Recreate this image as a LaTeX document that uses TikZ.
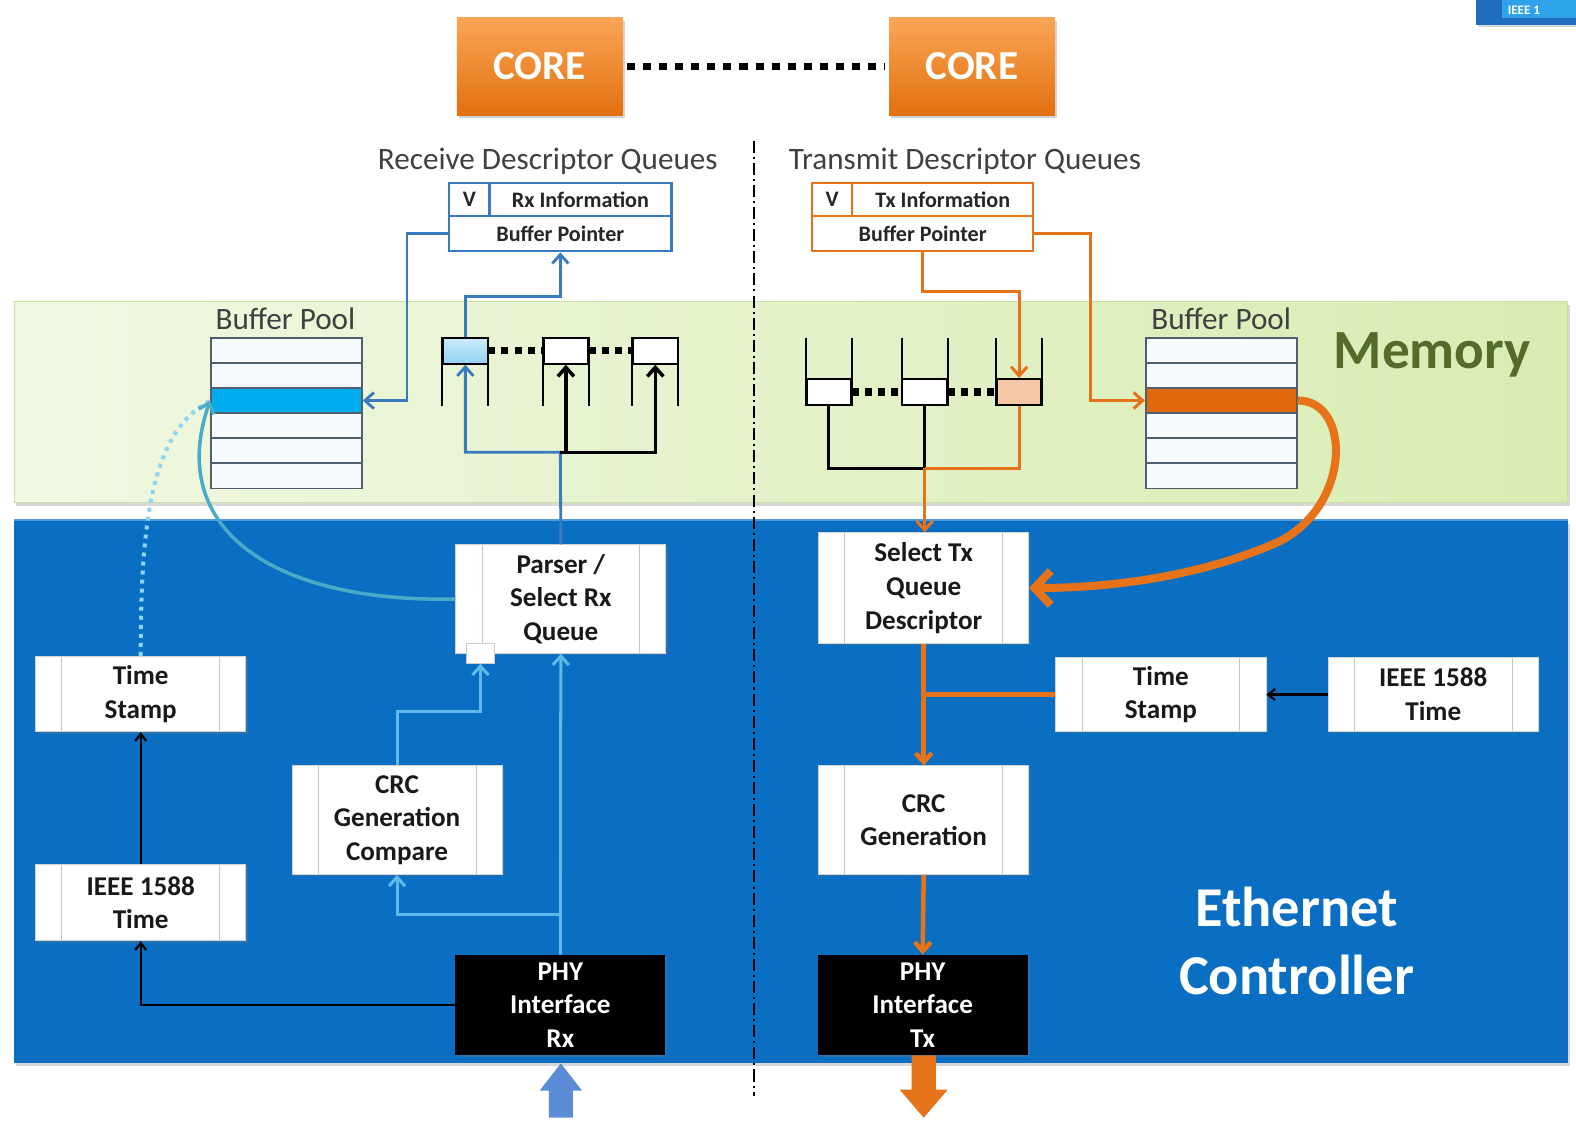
\documentclass[tikz,border=0pt]{standalone}
\usepackage{fontspec}
\setmainfont{Carlito}
\usetikzlibrary{arrows.meta,shadows,calc}
\definecolor{coreTop}{HTML}{FAA655}
\definecolor{coreBot}{HTML}{E2700F}
\definecolor{rxblue}{HTML}{3B79C0}
\definecolor{txorange}{HTML}{E6731A}
\definecolor{ctrlblue}{HTML}{0A6FC2}
\definecolor{ctrledge}{HTML}{4C9BE0}
\definecolor{cyanline}{HTML}{62B8E8}
\definecolor{dotline}{HTML}{8FD4F2}
\definecolor{tealline}{HTML}{4AAAC8}
\definecolor{memL}{HTML}{F0F8E2}
\definecolor{memR}{HTML}{D8ECB2}
\definecolor{memedge}{HTML}{C9E0A0}
\definecolor{memtext}{HTML}{556B2A}
\definecolor{poolfill}{HTML}{F7FBFF}
\definecolor{poolline}{HTML}{4F5F70}
\definecolor{hlcyan}{HTML}{00AEEF}
\definecolor{hlorange}{HTML}{E2690B}
\definecolor{qblueT}{HTML}{CDEBFA}
\definecolor{qblueB}{HTML}{8FD3F3}
\definecolor{qpeach}{HTML}{F8C9A6}
\definecolor{inarrow}{HTML}{5B8DD6}
\definecolor{logoA}{HTML}{1E6DC0}
\definecolor{logoB}{HTML}{2FA3EA}
\begin{document}
\begin{tikzpicture}[x=1pt,y=-1pt,
  core/.style={minimum width=165, minimum height=97, inner sep=0, top color=coreTop, bottom color=coreBot, text=white, font=\bfseries\fontsize{41}{50}\selectfont, drop shadow={opacity=0.35,shadow xshift=2,shadow yshift=3}},
  proc/.style={draw=gray!35, line width=0.8, fill=white, inner sep=0, align=center, text=black!90,
    font=\bfseries\fontsize{27}{33.5}\selectfont, minimum width=209,
    drop shadow={opacity=0.25,shadow xshift=2,shadow yshift=2},
    path picture={\draw[gray!45,line width=0.8]
      ([xshift=26pt]path picture bounding box.south west) -- ([xshift=26pt]path picture bounding box.north west)
      ([xshift=-26pt]path picture bounding box.south east) -- ([xshift=-26pt]path picture bounding box.north east);}},
  phy/.style={fill=black, text=white, minimum width=209, minimum height=100, inner sep=0, align=center,
    font=\bfseries\fontsize{27}{33.5}\selectfont, drop shadow={opacity=0.25,shadow xshift=2,shadow yshift=2}},
  rxdesc/.style={draw=rxblue, line width=2.2, fill=white, inner sep=0, font=\bfseries\fontsize{22}{26}\selectfont, text=black!85},
  txdesc/.style={rxdesc, draw=txorange},
  ttl/.style={font=\fontsize{31}{36}\selectfont, text=black!75},
  prow/.style={draw=poolline, line width=1.8, fill=poolfill, minimum width=150, minimum height=25, inner sep=0},
  qsq/.style={draw=black, line width=1.8, minimum width=44, minimum height=26, inner sep=0, fill=white},
  qline/.style={black, line width=1.8},
  qdots/.style={black, line width=7, dash pattern=on 7pt off 6pt},
  rxln/.style={rxblue, line width=2.8},
  txln/.style={txorange, line width=3},
  txthick/.style={txorange, line width=4.5},
  cyln/.style={cyanline, line width=3},
  blkthick/.style={black, line width=3.5},
  blkthin/.style={black, line width=2.2},
  barb/.style={-{Straight Barb[length=9pt,width=16pt]}},
  smallbarb/.style={-{Straight Barb[length=7pt,width=11pt]}}
]
\fill[white] (0,0) rectangle (1568,1118);
\useasboundingbox (0,0) rectangle (1568,1118);

% logo corner
\begin{scope}
\clip (0,0) rectangle (1568,1118);
\fill[logoA, drop shadow={opacity=0.3,shadow xshift=2,shadow yshift=2}] (1468,-4) rectangle (1575,25);
\fill[logoB] (1494,-4) rectangle (1575,18);
\node[white, font=\bfseries\fontsize{13}{13}\selectfont, anchor=base west, inner sep=0] (logo) at (1500,14) {IEEE 1};
\end{scope}

% bands
\node[left color=memL, right color=memR, draw=memedge, line width=1, minimum width=1546, minimum height=200, inner sep=0,
  drop shadow={opacity=0.3,shadow xshift=2,shadow yshift=3}] (mem) at (787,400) {};
\node[fill=ctrlblue, minimum width=1546, minimum height=540, inner sep=0,
  drop shadow={opacity=0.3,shadow xshift=2,shadow yshift=3}] (ctrl) at (787,788) {};
\draw[ctrledge, line width=2] (ctrl.north west) -- (ctrl.north east);

\node[font=\bfseries\fontsize{55}{60}\selectfont, text=memtext] (memlbl) at (1425,353) {Memory};
\node[font=\bfseries\fontsize{56}{68}\selectfont, text=white, align=center] (ctrllbl) at (1290,936) {Ethernet\\Controller};

% cores
\node[core] (coreL) at (537,66) {CORE};
\node[core] (coreR) at (967,66) {CORE};
\draw[black, line width=7, dash pattern=on 8pt off 8pt] ([xshift=4pt]coreL.east) -- ([xshift=-4pt]coreR.west);

% divider
\coordinate (divT) at (750,140);
\coordinate (divB) at (750,1090);
\draw[black, line width=2.2, dash pattern=on 12pt off 4pt on 2pt off 4pt] (divT) -- (divB);

% titles
\node[ttl] (rxttl) at (545,160) {Receive Descriptor Queues};
\node[ttl] (txttl) at (960,160) {Transmit Descriptor Queues};

% descriptors
\node[rxdesc, minimum width=40, minimum height=33] (rxV) at (467,198.5) {V};
\node[rxdesc, minimum width=181, minimum height=33] (rxInfo) at (577.5,198.5) {Rx Information};
\node[rxdesc, minimum width=221, minimum height=35] (rxBP) at (557.5,232.5) {Buffer Pointer};
\node[txdesc, minimum width=40, minimum height=33] (txV) at (828,198.5) {V};
\node[txdesc, minimum width=180, minimum height=33] (txInfo) at (938,198.5) {Tx Information};
\node[txdesc, minimum width=220, minimum height=35] (txBP) at (918,232.5) {Buffer Pointer};

% buffer pools
\node[ttl] (rxpoolt) at (284,317) {Buffer Pool};
\node[ttl] (txpoolt) at (1215,317) {Buffer Pool};
\foreach \i/\y in {1/348.5,2/373.5,3/398.5,4/423.5,5/448.5,6/473.5}{
  \node[prow] (rxp\i) at (285,\y) {};
  \node[prow] (txp\i) at (1215,\y) {};
}
\node[prow, fill=hlcyan] (rxp3) at (285,398.5) {};
\node[prow, fill=hlorange] (txp3) at (1215,398.5) {};

% rx queues
\node[qsq, top color=qblueT, bottom color=qblueB] (rxq1) at (463,349) {};
\node[qsq] (rxq2) at (563,349) {};
\node[qsq] (rxq3) at (652,349) {};
\foreach \q in {rxq1,rxq2,rxq3}{
  \draw[qline] (\q.north west) -- ++(0,69);
  \draw[qline] (\q.north east) -- ++(0,69);
}
\draw[qdots] (rxq1.east) -- (rxq2.west);
\draw[qdots] (rxq2.east) -- (rxq3.west);

% tx queues
\node[qsq] (txq1) at (824.5,390) {};
\node[qsq] (txq2) at (920,390) {};
\node[qsq, fill=qpeach] (txq3) at (1014,390) {};
\foreach \q in {txq1,txq2,txq3}{
  \draw[qline] (\q.south west) -- ++(0,-68);
  \draw[qline] (\q.south east) -- ++(0,-68);
}
\draw[qdots] (txq1.east) -- (txq2.west);
\draw[qdots] (txq2.east) -- (txq3.west);

% controller nodes (Rx)
\node[proc, minimum height=108] (parser) at (558,596) {Parser /\\Select Rx\\Queue};
\node[fill=white, draw=gray!40, line width=0.8, minimum width=28, minimum height=20, inner sep=0] (smallsq) at (478,650) {};
\node[proc, minimum height=75] (tsL) at (140,690.5) {Time\\Stamp};
\node[proc, minimum height=76] (ieeeL) at (140,898) {IEEE 1588\\Time};
\node[proc, minimum height=108] (crcL) at (395,816) {CRC\\Generation\\Compare};
\node[phy] (phyRx) at (557.5,1000) {PHY\\Interface\\Rx};

% controller nodes (Tx)
\node[proc, minimum height=110] (selTx) at (919,585) {Select Tx\\Queue\\Descriptor};
\node[proc, minimum height=73] (tsR) at (1155,691) {Time\\Stamp};
\node[proc, minimum height=73] (ieeeR) at (1426,691) {IEEE 1588\\Time};
\node[proc, minimum height=108] (crcR) at (919,816) {CRC\\Generation};
\node[phy] (phyTx) at (918,1000) {PHY\\Interface\\Tx};

% Rx memory connectors
\coordinate (rxJ) at (557.5,450);
\coordinate (rxJ2) at (557.5,295);
\coordinate (rxK) at (405,398.5);
\draw[rxln, barb] (parser.north) -- (rxJ) -| (rxq1.south);
\draw[blkthick, barb] (rxJ) -| (rxq3.south);
\draw[blkthick, barb] (rxq2.south |- rxJ) -- (rxq2.south);
\draw[rxln, barb] (rxq1.north) |- (rxJ2) -- (rxBP.south);
\draw[rxln, barb] (rxBP.west) -| (rxK) -- (rxp3.east);

% Tx memory connectors
\coordinate (txJ) at (1014,290);
\coordinate (txK) at (1085,398.5);
\coordinate (txM) at (920,466);
\draw[txln, barb] (txBP.south) |- (txJ) -- (txq3.north);
\draw[txln, barb] (txBP.east) -| (txK) -- (txp3.west);
\draw[blkthick] (txq1.south) |- (txM) -- (txq2.south);
\draw[txln] (txq3.south) |- (txM);
\draw[txln, barb] (txM) -- (selTx.north -| txM);

% Rx controller connectors
\coordinate (brA) at (557.5,910);
\coordinate (crcUp) at (395,708);
\draw[cyln, barb] (phyRx.north) -- (parser.south);
\draw[cyln, barb] (brA) -| (crcL.south);
\draw[cyln, barb] (crcL.north) -- (crcUp) -| (smallsq.south);
\draw[blkthin, smallbarb] (ieeeL.north) -- (tsL.south);
\draw[blkthin, smallbarb] (phyRx.west) -| (ieeeL.south);
\draw[dotline, line width=4, dash pattern=on 4pt off 5pt] (tsL.north) .. controls (140,520) and (150,430) .. (rxp3.west);
\draw[tealline, line width=3.5, barb] (parser.west) .. controls (270,600) and (165,525) .. (rxp3.west);

% Tx controller connectors
\coordinate (tsJ) at (919,691);
\draw[txthick, barb] (selTx.south) -- (crcR.north);
\draw[txthick] (tsR.west) -- (tsJ);
\draw[blkthin, smallbarb] (ieeeR.west) -- (tsR.east);
\draw[txthick, barb] (crcR.south) -- (phyTx.north);
\draw[txorange, line width=8, -{Straight Barb[length=16pt,width=34pt]}] (txp3.east) .. controls (1345,398) and (1345,505) .. (1270,540) .. controls (1190,575) and (1100,585) .. (selTx.east);

% big in/out arrows
\coordinate (rxIn) at (558,1058);
\fill[inarrow] (rxIn) -- ++(21,27) -- ++(-9,0) -- ++(0,27) -- ++(-24,0) -- ++(0,-27) -- ++(-9,0) -- cycle;
\coordinate (txOut) at (919,1112);
\fill[txorange] (txOut) -- ++(24,-28) -- ++(-12,0) -- ++(0,-34) -- ++(-24,0) -- ++(0,34) -- ++(-12,0) -- cycle;
\end{tikzpicture}
\end{document}
